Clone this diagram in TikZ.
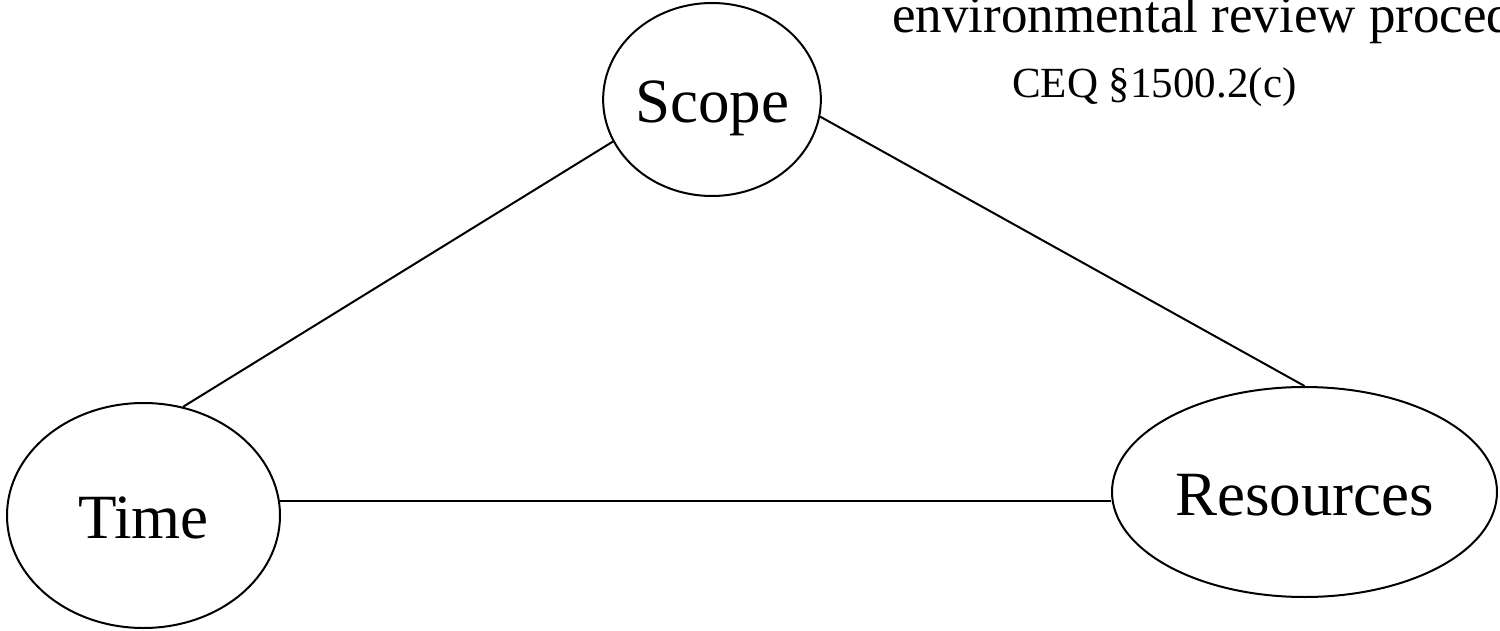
\documentclass[tikz,border=0pt]{standalone}
\usepackage{fontspec}
\setmainfont{Liberation Serif}
\usetikzlibrary{shapes.geometric}
\begin{document}
\begin{tikzpicture}[x=1pt,y=-1pt,
  shapebox/.style={draw=black, line width=2pt, ellipse, inner sep=0pt,
    text height=46pt, text depth=0pt, font=\fontsize{63}{70}\selectfont},
  link/.style={draw=black, line width=2pt},
  note/.style={anchor=base west, inner sep=0pt}]
\useasboundingbox (0,0) rectangle (1500,631);
\node[shapebox, minimum width=194pt, minimum height=193pt] (scope) at (712,99.5) {Scope};
\node[shapebox, minimum width=273pt, minimum height=225pt] (time) at (143.5,515.5) {Time};
\node[shapebox, minimum width=385pt, minimum height=210pt] (res) at (1304.5,492) {Resources};
\node[note, font=\fontsize{53}{60}\selectfont] (title) at (892,33) {environmental review proced};
\node[note, font=\fontsize{43}{50}\selectfont] (ceq) at (1012,98) {CEQ §1500.2(c)};
\draw[link] (time.70.3) -- (scope.203.2);
\draw[link] (scope.-9.4) -- (res.north);
\draw[link] (time.6.5) -- (time.6.5 -| res.west);
\end{tikzpicture}
\end{document}
